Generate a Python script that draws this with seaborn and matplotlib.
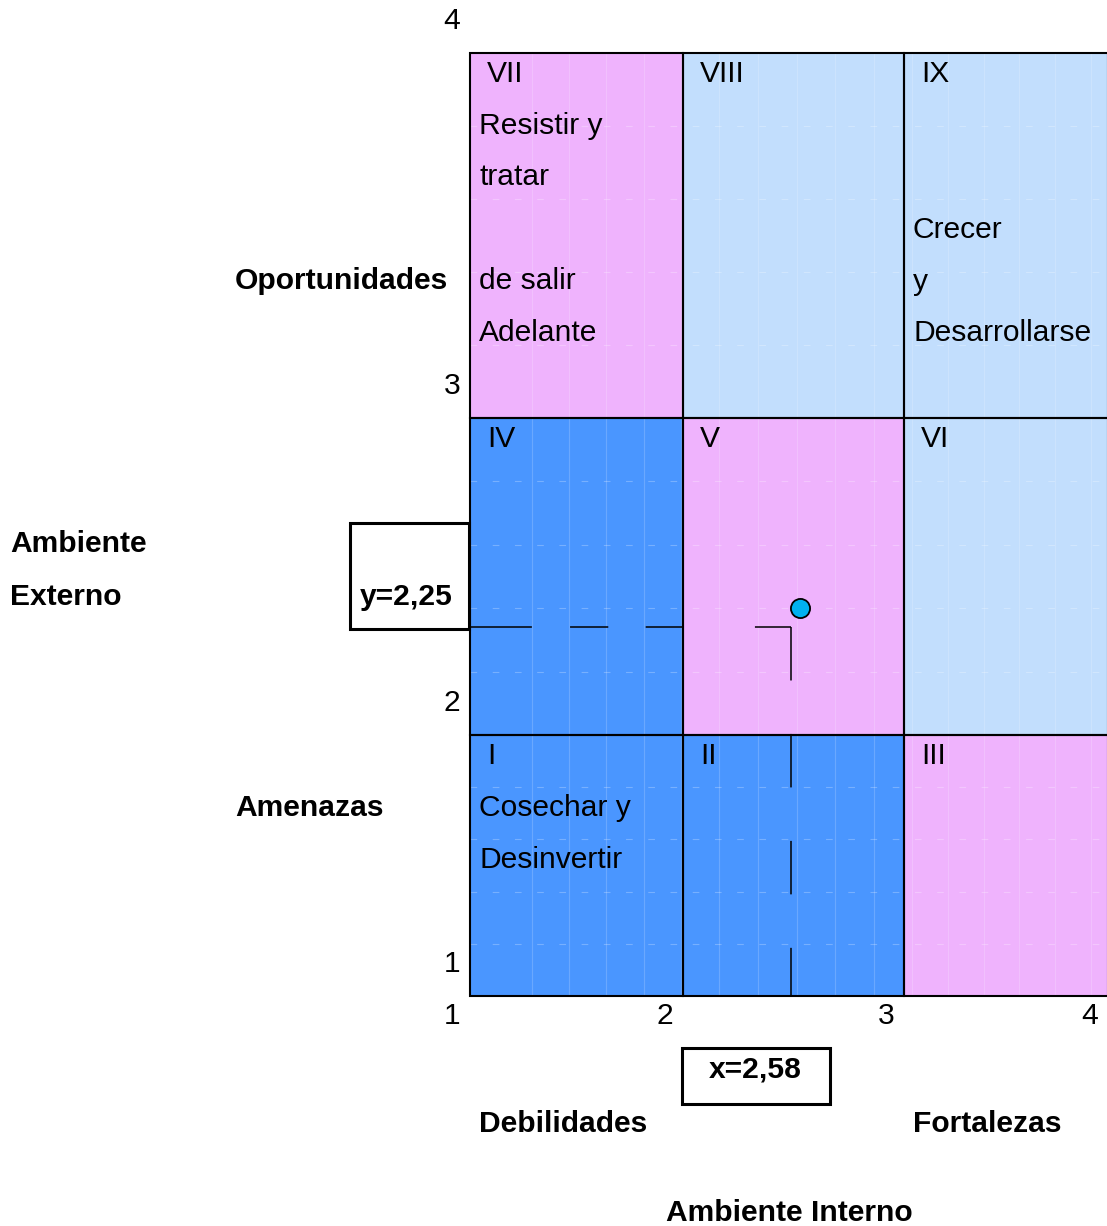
import numpy as np
import pandas as pd
import matplotlib.pyplot as plt
import matplotlib.patches as mpatches
import matplotlib.transforms as mtrans
import seaborn as sns

# --- data -------------------------------------------------------------
x_ticks = [1, 2, 3, 4]
y_ticks = [1, 2, 3, 4]

cell_col = [1, 2, 3, 1, 2, 3, 1, 2, 3]
cell_row = [1, 1, 1, 2, 2, 2, 3, 3, 3]
cell_name = ['I', 'II', 'III', 'IV', 'V', 'VI', 'VII', 'VIII', 'IX']
cell_group = ['blue', 'blue', 'pink', 'blue', 'pink', 'light', 'pink', 'light', 'light']

# position of the firm as drawn in the picture, and its dashed guides
point_x = [2.53]
point_y = [2.40]
guide_x = 2.49
guide_y = 2.34

x_value_label = 'x=2,58'
y_value_label = 'y=2,25'

palette = {'blue': '#4A96FF', 'pink': '#EFB3FD', 'light': '#C2DEFD'}

# --- figure -----------------------------------------------------------
sns.set_style("white")
plt.rcParams['font.family'] = ['Liberation Sans', 'DejaVu Sans']
plt.rcParams['text.color'] = 'black'
plt.rcParams['xtick.color'] = 'black'
plt.rcParams['ytick.color'] = 'black'

W, H = 1107, 1226
FS = 21.6
fig = plt.figure(figsize=(W / 100, H / 100), dpi=100)
ax = fig.add_axes([470 / W, (H - 996) / H, (1108 - 470) / W, (996 - 53) / H])


def piecewise(knots, pos):
    knots = np.asarray(knots, float)
    pos = np.asarray(pos, float)

    def _map(v, a, b):
        v = np.asarray(v, dtype=float)
        flat = np.atleast_1d(v).astype(float).ravel()
        out = np.interp(flat, a, b)
        lo, hi = flat < a[0], flat > a[-1]
        out[lo] = b[0] + (flat[lo] - a[0]) * (b[1] - b[0]) / (a[1] - a[0])
        out[hi] = b[-1] + (flat[hi] - a[-1]) * (b[-1] - b[-2]) / (a[-1] - a[-2])
        return out.reshape(v.shape)

    return (lambda v: _map(v, knots, pos)), (lambda p: _map(p, pos, knots))


# the original drawing has unequal rows/columns
ax.set_xscale('function', functions=piecewise(x_ticks, [0, 213, 434, 638]))
ax.set_yscale('function', functions=piecewise(y_ticks, [0, 261, 578, 943]))
ax.set_xlim(1, 4)
ax.set_ylim(1, 4)

cells = pd.DataFrame({'col': cell_col, 'row': cell_row,
                      'name': cell_name, 'group': cell_group})

for _, c in cells.iterrows():
    ax.add_patch(mpatches.Rectangle((c['col'], c['row']), 1, 1,
                                    facecolor=palette[c['group']], lw=0, zorder=1))

# faint texture lines seen inside the cells
ax.vlines(np.arange(1.29, 4, 0.175), 1, 4, color='white', alpha=0.18, lw=0.8, zorder=1.5)
ax.hlines(np.arange(1.2, 4, 0.2), 1, 4, color='white', alpha=0.25, lw=0.8,
          linestyles=[(0, (6, 14))], zorder=1.5)

for _, c in cells.iterrows():
    ax.add_patch(mpatches.Rectangle((c['col'], c['row']), 1, 1, fill=False,
                                    edgecolor='black', lw=1.5, zorder=2, clip_on=False))

# dashed guides and point
ax.plot([1, guide_x], [guide_y, guide_y], color='black', lw=1.1,
        linestyle=(0, (40.5, 25, 25, 24.5, 25, 46.5, 25, 10)), zorder=3)
ax.plot([guide_x, guide_x], [guide_y, 1], color='black', lw=1.1,
        linestyle=(0, (35, 35)), zorder=3)
sns.scatterplot(x=point_x, y=point_y, s=190, color='#00B0F0', edgecolor='black',
                linewidth=1.3, zorder=5, legend=False, ax=ax)

for s in ax.spines.values():
    s.set_visible(False)

ax.set_xticks(x_ticks)
ax.set_xticklabels([str(t) for t in x_ticks])
ax.set_yticks(y_ticks)
ax.set_yticklabels([str(t) for t in y_ticks])
ax.tick_params(axis='x', length=0, labelsize=FS, pad=4, labelcolor='black')
ax.tick_params(axis='y', length=0, labelsize=FS, pad=7, labelcolor='black')
ax.set_xlabel('')
ax.set_ylabel('')

# tick labels in the original sit left of / above the grid lines
for lab in ax.get_xticklabels():
    lab.set_transform(lab.get_transform() + mtrans.ScaledTranslation(-18 / 100, 0, fig.dpi_scale_trans))
for lab in ax.get_yticklabels():
    lab.set_transform(lab.get_transform() + mtrans.ScaledTranslation(0, 35 / 100, fig.dpi_scale_trans))


def put(px, py, s, **kw):
    fig.text(px / W, 1 - py / H, s, fontsize=FS, va='baseline', color='black', **kw)


# cell numerals
col_left = {1: 470, 2: 683, 3: 904}
row_top = {1: 735, 2: 418, 3: 53}
for _, c in cells.iterrows():
    put(col_left[c['col']] + 17, row_top[c['row']] + 29, c['name'])

# strategy texts
put(479, 134, 'Resistir y')
put(479, 185, 'tratar')
put(479, 289, 'de salir')
put(479, 341, 'Adelante')
put(913, 238, 'Crecer')
put(913, 290, 'y')
put(913, 341, 'Desarrollarse')
put(479, 816, 'Cosechar y')
put(479, 868, 'Desinvertir')

# axis descriptions
put(235, 289, 'Oportunidades', weight='bold')
put(10, 552, 'Ambiente', weight='bold')
put(10, 605, 'Externo', weight='bold')
put(235, 816, 'Amenazas', weight='bold')
put(479, 1132, 'Debilidades', weight='bold')
put(913, 1132, 'Fortalezas', weight='bold')
put(666, 1221, 'Ambiente Interno', weight='bold')

# value boxes
for (x0, y0, x1, y1) in [(350, 523, 469, 629), (682, 1048, 830, 1104)]:
    fig.add_artist(mpatches.Rectangle((x0 / W, 1 - y1 / H), (x1 - x0) / W, (y1 - y0) / H,
                                      transform=fig.transFigure, fill=False,
                                      edgecolor='black', lw=2.2))
put(406, 605, y_value_label, weight='bold', ha='center')
put(755, 1078, x_value_label, weight='bold', ha='center')

fig.savefig('out.png', dpi=100)
